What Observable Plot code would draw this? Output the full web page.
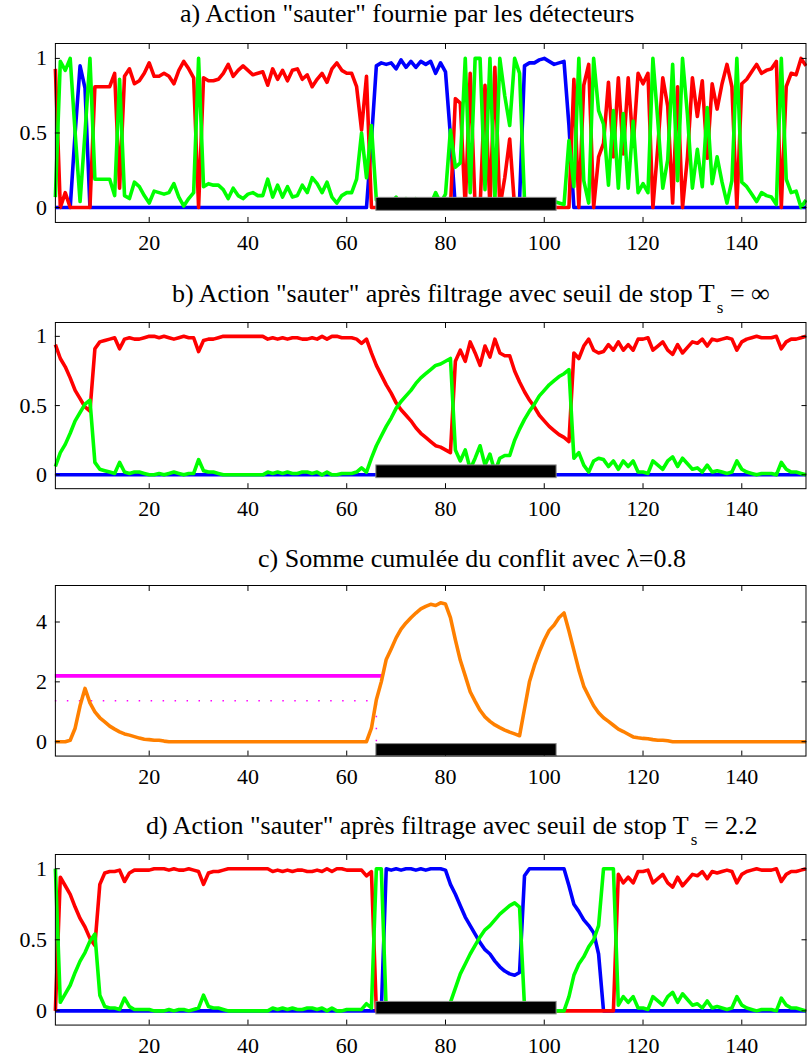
<!DOCTYPE html>
<html><head><meta charset="utf-8">
<script src="https://cdn.jsdelivr.net/npm/d3@7"></script>
<script src="https://cdn.jsdelivr.net/npm/@observablehq/plot@0.6"></script>
<style>
html,body{margin:0;padding:0;overflow:hidden;background:#fff;}
#root{position:relative;width:807px;height:1063px;font-family:"Liberation Serif","Times New Roman",serif;color:#000;}
.title{position:absolute;font-size:26px;white-space:nowrap;line-height:26px;}
.sub{font-size:17px;position:relative;top:11px;margin-left:2px;}
.panel{position:absolute;left:0;}
</style></head><body><div id="root"></div>
<script>
// ---------- data ----------
const xTicks = [20, 40, 60, 80, 100, 120, 140];
const probTicks = [0, 0.5, 1];
const sumTicks = [0, 2, 4];
const barStart = 66, barEnd = 102.5;
const thresholdTs = 2.2, stopX = 67.3;
const dottedLevel = 1.37, dottedX = 66;

const titleA = 'a) Action "sauter" fournie par les détecteurs';
const titleB = 'b) Action "sauter" après filtrage avec seuil de stop T';
const titleBend = ' = ∞';
const titleC = 'c) Somme cumulée du conflit avec λ=0.8';
const titleD = 'd) Action "sauter" après filtrage avec seuil de stop T';
const titleDend = ' = 2.2';

// panel a : detectors
const redA = [0.93,0,0.1,0,0,0,0,0,0.81,0.81,0.81,0.81,0.9,0.13,0.88,0.93,0.83,0.85,0.9,0.97,
0.88,0.88,0.9,0.88,0.83,0.92,0.98,0.93,0.87,0,0.87,0.85,0.85,0.86,0.9,0.96,0.88,0.92,0.95,0.92,
0.89,0.9,0.91,0.82,0.93,0.86,0.92,0.85,0.92,0.93,0.86,0.89,0.81,0.86,0.9,0.84,0.93,0.97,0.92,0.9,
0.9,0.81,0.52,0.88,0,0,0,0,0,0,0,0,0,0,0,0,0,0,0,0,
0,0.73,0.7,0,0.9,0,0,0.82,0,0.94,0,0.2,0.46,0,0,0,0,0,0,0,
0,0,0,0,0,0.86,0,0.82,0.96,0,0.34,0.43,0.84,0.34,0.87,0.36,0.87,0.41,0.9,0.83,
0.9,0,0.41,0.87,0.68,0.03,0.81,0,0.34,0.87,0.61,0.85,0.33,0.83,0.66,0.83,0.96,0.81,0,0.83,
0.86,0.91,0.96,0.9,0.92,0.93,0.98,0,0.81,0.9,0.89,1.0,0.95];
const greenA = [0.07,0.98,0.92,1.0,0.5,0.04,0.5,1.0,0.19,0.19,0.19,0.19,0.08,0.86,0.08,0.06,0.17,0.14,0.08,0.03,
0.11,0.1,0.09,0.1,0.16,0.07,0.01,0.06,0.1,1.0,0.14,0.16,0.15,0.15,0.12,0.06,0.13,0.08,0.06,0.09,
0.1,0.08,0.08,0.19,0.07,0.15,0.07,0.14,0.07,0.08,0.15,0.1,0.2,0.16,0.1,0.17,0.07,0.03,0.08,0.1,
0.1,0.19,0.5,0.2,0.55,0.05,0.03,0.04,0.03,0.07,0.01,0.06,0.02,0.06,0.02,0.04,0.02,0.1,0.03,0.09,
0.52,0.27,0.3,1.0,0.1,1.0,1.0,0.12,1.0,0.05,1.0,0.75,0.55,1.0,0.9,0.05,0.03,0.03,0.01,0,
0.02,0.04,0.03,0.02,0.45,0.14,1.0,0.18,0.03,1.0,0.65,0.56,0.15,0.65,0.13,0.63,0.13,0.58,0.1,0.16,
0.1,1.0,0.58,0.13,0.32,0.96,0.18,1.0,0.62,0.13,0.39,0.14,0.67,0.16,0.34,0.17,0.03,0.18,1.0,0.17,
0.14,0.09,0.04,0.1,0.08,0.07,0.02,1.0,0.19,0.1,0.11,0,0.05];
const blueA = [0,0,0,0,0.5,0.95,0.8,0,0,0,0,0,0,0,0,0,0,0,0,0,
0,0,0,0,0,0,0,0,0,0,0,0,0,0,0,0,0,0,0,0,
0,0,0,0,0,0,0,0,0,0,0,0,0,0,0,0,0,0,0,0,
0,0,0,0,0.45,0.95,0.97,0.96,0.97,0.93,0.99,0.94,0.98,0.94,0.98,0.96,0.98,0.9,0.97,0.91,
0.48,0,0,0,0,0,0,0,0,0,0,0,0,0,0.05,0.95,0.97,0.97,0.99,1.0,
0.98,0.96,0.97,0.98,0.55,0,0,0,0,0,0,0,0,0,0,0,0,0,0,0,
0,0,0,0,0,0,0,0,0,0,0,0,0,0,0,0,0,0,0,0,
0,0,0,0,0,0,0,0,0,0,0,0,0];

// panel b : filtered, Ts = infinity
const redB = [0.94,0.84,0.78,0.7,0.61,0.55,0.49,0.46,0.91,0.96,0.97,0.98,0.99,0.91,0.98,0.99,0.98,0.98,0.99,1.0,
1.0,0.99,1.0,0.99,0.98,0.99,1.0,0.99,0.99,0.89,0.97,0.98,0.98,0.99,1.0,1.0,1.0,1.0,1.0,1.0,
1.0,1.0,1.0,0.98,0.99,0.98,0.99,0.98,0.99,0.99,0.98,0.98,0.99,0.98,1.0,0.98,1.0,1.0,0.99,0.99,
0.99,0.98,0.95,0.98,0.88,0.79,0.72,0.65,0.59,0.52,0.47,0.43,0.39,0.34,0.3,0.27,0.24,0.21,0.2,0.18,
0.16,0.82,0.9,0.82,0.96,0.88,0.79,0.93,0.85,0.98,0.88,0.86,0.86,0.75,0.67,0.6,0.54,0.49,0.43,0.39,
0.35,0.32,0.29,0.27,0.24,0.88,0.84,0.93,0.98,0.9,0.88,0.89,0.94,0.9,0.96,0.9,0.94,0.9,0.98,0.98,
0.99,0.9,0.93,0.96,0.9,0.87,0.94,0.88,0.92,0.96,0.95,0.98,0.93,0.98,0.97,0.98,0.99,0.98,0.9,0.96,
0.98,0.99,1.0,0.99,0.99,0.99,1.0,0.91,0.96,0.98,0.98,0.99,1.0];
const greenB = [0.06,0.16,0.22,0.3,0.39,0.45,0.51,0.54,0.09,0.04,0.03,0.02,0.01,0.09,0.02,0.01,0.02,0.02,0.01,0,
0,0.01,0,0.01,0.02,0.01,0,0.01,0.01,0.11,0.03,0.02,0.02,0.01,0,0,0,0,0,0,
0,0,0,0.02,0.01,0.02,0.01,0.02,0.01,0.01,0.02,0.02,0.01,0.02,0,0.02,0,0,0.01,0.01,
0.01,0.02,0.05,0.02,0.12,0.21,0.28,0.35,0.41,0.48,0.53,0.57,0.61,0.66,0.7,0.73,0.76,0.79,0.8,0.82,
0.84,0.18,0.1,0.18,0.04,0.12,0.21,0.07,0.15,0.02,0.12,0.14,0.14,0.25,0.33,0.4,0.46,0.51,0.57,0.61,
0.65,0.68,0.71,0.73,0.76,0.12,0.16,0.07,0.02,0.1,0.12,0.11,0.06,0.1,0.04,0.1,0.06,0.1,0.02,0.02,
0.01,0.1,0.07,0.04,0.1,0.13,0.06,0.12,0.08,0.04,0.05,0.02,0.07,0.02,0.03,0.02,0.01,0.02,0.1,0.04,
0.02,0.01,0,0.01,0.01,0.01,0,0.09,0.04,0.02,0.02,0.01,0];
const blueB = [0,0,0,0,0,0,0,0,0,0,0,0,0,0,0,0,0,0,0,0,
0,0,0,0,0,0,0,0,0,0,0,0,0,0,0,0,0,0,0,0,
0,0,0,0,0,0,0,0,0,0,0,0,0,0,0,0,0,0,0,0,
0,0,0,0,0,0,0,0,0,0,0,0,0,0,0,0,0,0,0,0,
0,0,0,0,0,0,0,0,0,0,0,0,0,0,0,0,0,0,0,0,
0,0,0,0,0,0,0,0,0,0,0,0,0,0,0,0,0,0,0,0,
0,0,0,0,0,0,0,0,0,0,0,0,0,0,0,0,0,0,0,0,
0,0,0,0,0,0,0,0,0,0,0,0,0];

// panel c : cumulated conflict
const conflictC = [0,0,0,0.05,0.45,1.2,1.78,1.3,1.0,0.8,0.66,0.52,0.42,0.33,0.26,0.22,0.17,0.12,0.08,0.07,
0.05,0.05,0.02,0,0,0,0,0,0,0,0,0,0,0,0,0,0,0,0,0,
0,0,0,0,0,0,0,0,0,0,0,0,0,0,0,0,0,0,0,0,
0,0,0,0,0.45,1.4,2.0,2.75,3.1,3.47,3.76,3.97,4.14,4.3,4.44,4.52,4.59,4.55,4.64,4.6,
4.15,3.4,2.72,2.2,1.67,1.35,1.05,0.83,0.68,0.56,0.47,0.39,0.32,0.26,0.2,1.1,2.0,2.55,3.0,3.4,
3.72,3.9,4.15,4.3,3.7,3.05,2.4,1.85,1.52,1.2,0.97,0.8,0.68,0.55,0.42,0.34,0.25,0.16,0.13,0.11,
0.1,0.07,0.05,0.05,0.03,0,0,0,0,0,0,0,0,0,0,0,0,0,0,0,
0,0,0,0,0,0,0,0,0,0,0,0,0];

// panel d : filtered, Ts = 2.2
const redD = [0,0.94,0.88,0.82,0.73,0.65,0.59,0.51,0.46,0.89,0.97,0.98,0.98,0.99,0.91,0.97,0.99,0.99,0.99,0.99,
1.0,1.0,1.0,0.99,1.0,0.99,0.99,1.0,0.99,0.98,0.89,0.97,0.98,0.98,0.99,1.0,1.0,1.0,1.0,1.0,
1.0,1.0,1.0,1.0,0.98,0.99,0.98,0.99,0.98,0.99,0.99,0.98,0.98,0.99,0.98,1.0,0.98,1.0,1.0,0.99,
0.99,0.99,0.99,0.95,0.98,0,0,0,0,0,0,0,0,0,0,0,0,0,0,0,
0,0,0,0,0,0,0,0,0,0,0,0,0,0,0,0,0,0,0,0,
0,0,0,0,0,0,0,0,0,0,0,0,0,0,0.96,0.9,0.94,0.9,0.98,0.98,
0.99,0.9,0.93,0.96,0.9,0.87,0.94,0.88,0.92,0.96,0.95,0.98,0.93,0.98,0.97,0.98,0.99,0.98,0.9,0.96,
0.98,0.99,1.0,0.99,0.99,0.99,1.0,0.91,0.96,0.98,0.98,0.99,1.0];
const greenD = [1.0,0.06,0.12,0.18,0.27,0.35,0.41,0.49,0.54,0.11,0.03,0.02,0.02,0.01,0.09,0.03,0.01,0.01,0.01,0.01,
0,0,0,0.01,0,0.01,0.01,0,0.01,0.02,0.11,0.03,0.02,0.02,0.01,0,0,0,0,0,
0,0,0,0,0.02,0.01,0.02,0.01,0.02,0.01,0.01,0.02,0.02,0.01,0.02,0,0.02,0,0,0.01,
0.01,0.01,0.01,0.05,0.02,1.0,1.0,0,0,0,0,0,0,0,0,0,0,0,0,0,
0.06,0.16,0.26,0.33,0.4,0.46,0.52,0.57,0.6,0.64,0.68,0.71,0.74,0.76,0.73,0.03,0,0,0,0,
0,0,0,0,0.1,0.25,0.33,0.38,0.45,0.5,0.6,1.0,1.0,1.0,0.04,0.1,0.06,0.1,0.02,0.02,
0.01,0.1,0.07,0.04,0.1,0.13,0.06,0.12,0.08,0.04,0.05,0.02,0.07,0.02,0.03,0.02,0.01,0.02,0.1,0.04,
0.02,0.01,0,0.01,0.01,0.01,0,0.09,0.04,0.02,0.02,0.01,0];
const blueD = [0,0,0,0,0,0,0,0,0,0,0,0,0,0,0,0,0,0,0,0,
0,0,0,0,0,0,0,0,0,0,0,0,0,0,0,0,0,0,0,0,
0,0,0,0,0,0,0,0,0,0,0,0,0,0,0,0,0,0,0,0,
0,0,0,0,0,0,0,1.0,0.99,1.0,0.99,1.0,1.0,0.99,1.0,0.99,1.0,1.0,1.0,0.99,
0.89,0.82,0.74,0.66,0.6,0.54,0.48,0.43,0.4,0.35,0.31,0.28,0.26,0.25,0.27,0.95,1.0,1.0,1.0,1.0,
1.0,1.0,1.0,1.0,0.88,0.75,0.7,0.64,0.6,0.55,0.4,0,0,0,0,0,0,0,0,0,
0,0,0,0,0,0,0,0,0,0,0,0,0,0,0,0,0,0,0,0,
0,0,0,0,0,0,0,0,0,0,0,0,0];

// ---------- drawing ----------
const FONT = '"Liberation Serif","Times New Roman",serif';
const root = document.getElementById("root");
const RED = "#ff0000", GREEN = "#00ff00", BLUE = "#0000ff", ORANGE = "#ff8000", MAGENTA = "#ff00ff";
const LW = 3.6;

function seriesLine(values, color) {
  return Plot.line(values, {x: (d, i) => i + 1, y: d => d, stroke: color, strokeWidth: LW, strokeLinejoin: "round", strokeLinecap: "butt"});
}

function axes(yTicks) {
  return [
    Plot.frame({stroke: "black", strokeWidth: 1}),
    Plot.axisX({ticks: xTicks, anchor: "bottom", tickSize: -5, tickPadding: 17, tickFormat: d => String(d), fontFamily: FONT}),
    Plot.axisX({ticks: xTicks, anchor: "top", tickSize: -5, tickFormat: () => ""}),
    Plot.axisY({ticks: yTicks, anchor: "left", tickSize: -5, tickPadding: 13.5, tickFormat: d => String(d), fontFamily: FONT}),
    Plot.axisY({ticks: yTicks, anchor: "right", tickSize: -5, tickFormat: () => ""})
  ];
}

function panel(top, frameH, yDomain, yTicks, marks) {
  const mt = 1, mb = 40;
  const svg = Plot.plot({
    width: 809, height: mt + frameH + mb,
    marginTop: mt, marginBottom: mb, marginLeft: 55, marginRight: 1.5,
    x: {domain: [1, 153], label: null},
    y: {domain: yDomain, label: null},
    style: {fontFamily: FONT, fontSize: "22px", color: "black", background: "transparent"},
    marks: [...marks, ...axes(yTicks)]
  });
  const div = document.createElement("div");
  div.className = "panel";
  div.style.top = (top - mt) + "px";
  div.appendChild(svg);
  root.appendChild(div);
}

function bar(y1, y2) {
  return Plot.rect([{x1: barStart, x2: barEnd, y1, y2}], {x1: "x1", x2: "x2", y1: "y1", y2: "y2", fill: "black", stroke: "#888", strokeWidth: 1});
}

function title(text, left, top, sub, tail) {
  const t = document.createElement("div");
  t.className = "title";
  t.style.left = left + "px";
  t.style.top = top + "px";
  t.style.fontFamily = FONT;
  t.textContent = text;
  if (sub) {
    const s = document.createElement("span");
    s.className = "sub";
    s.textContent = sub;
    t.appendChild(s);
    t.appendChild(document.createTextNode(tail));
  }
  root.appendChild(t);
}

// panel a
panel(43.3, 179.4, [-0.1, 1.1], probTicks, [
  seriesLine(blueA, BLUE), seriesLine(redA, RED), seriesLine(greenA, GREEN), bar(-0.022, 0.065)
]);
// panel b
panel(321.7, 166.6, [-0.1, 1.1], probTicks, [
  seriesLine(blueB, BLUE), seriesLine(redB, RED), seriesLine(greenB, GREEN), bar(-0.024, 0.068)
]);
// panel c
panel(585, 171, [-0.48, 5.22], sumTicks, [
  Plot.ruleY([thresholdTs], {x1: 1, x2: stopX, stroke: MAGENTA, strokeWidth: 3.6}),
  Plot.ruleY([dottedLevel], {x1: 1, x2: dottedX, stroke: MAGENTA, strokeWidth: 1.5, strokeDasharray: "1.5,10.5"}),
  Plot.ruleX([dottedX], {y1: 0, y2: dottedLevel, stroke: MAGENTA, strokeWidth: 1.5, strokeDasharray: "1.5,10.5"}),
  seriesLine(conflictC, ORANGE),
  bar(-0.48, -0.08)
]);
// panel d
panel(854, 171, [-0.1, 1.1], probTicks, [
  seriesLine(blueD, BLUE), seriesLine(redD, RED), seriesLine(greenD, GREEN), bar(-0.025, 0.063)
]);

title(titleA, 180, 1, null, null);
title(titleB, 172, 281, "s", titleBend);
title(titleC, 258, 546, null, null);
title(titleD, 146, 813, "s", titleDend);
</script></body></html>
